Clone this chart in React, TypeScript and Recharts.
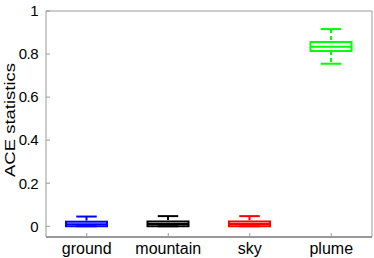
import React from 'react';
import { ComposedChart, Bar, XAxis, YAxis, Label } from 'recharts';

const categories = ['ground', 'mountain', 'sky', 'plume'];
const colors = ['#0000ff', '#000000', '#ff0000', '#00ff00'];
const lowerWhisker = [0, 0, 0, 0.755];
const q1 = [0, 0, 0, 0.814];
const median = [0.009, 0.01, 0.01, 0.834];
const q3 = [0.021, 0.022, 0.022, 0.856];
const upperWhisker = [0.045, 0.047, 0.047, 0.916];
const yTicks = [0, 0.2, 0.4, 0.6, 0.8, 1];

const data = categories.map((name, i) => ({
  name,
  color: colors[i],
  lo: lowerWhisker[i],
  q1: q1[i],
  med: median[i],
  q3: q3[i],
  hi: upperWhisker[i],
  range: [lowerWhisker[i], upperWhisker[i]],
}));

const FONT = '"Liberation Sans", Arial, sans-serif';

function BoxShape(props: any) {
  const { x, y, width, height, payload } = props;
  const { lo, hi, color } = payload;
  const k = height / (hi - lo);
  const py = (v: number) => y + (hi - v) * k;
  const cx = x + width / 2;
  const cap = width / 4;
  return (
    <g stroke={color} strokeWidth={2} fill="none">
      <line x1={cx} x2={cx} y1={py(hi)} y2={py(payload.q3)} strokeDasharray="4 3" />
      <line x1={cx} x2={cx} y1={py(payload.q1)} y2={py(lo)} strokeDasharray="4 3" />
      <line x1={cx - cap} x2={cx + cap} y1={py(hi)} y2={py(hi)} />
      <line x1={cx - cap} x2={cx + cap} y1={py(lo)} y2={py(lo)} />
      <rect x={x} y={py(payload.q3)} width={width} height={py(payload.q1) - py(payload.q3)} />
      <line x1={x} x2={x + width} y1={py(payload.med)} y2={py(payload.med)} />
    </g>
  );
}

// rotated axis title, stretched a little like the exported figure
function YTitle({ viewBox }: any) {
  const tx = viewBox.x + 15;
  const ty = viewBox.y + viewBox.height / 2 - 4;
  return (
    <text
      x={tx}
      y={ty}
      transform={`rotate(-90, ${tx}, ${ty})`}
      textAnchor="middle"
      fontSize={14.5}
      fontFamily={FONT}
      fill="#000"
      textLength={114}
      lengthAdjust="spacingAndGlyphs"
    >
      ACE statistics
    </text>
  );
}

export default function App() {
  const tickStyle = { fontSize: 15, fontFamily: FONT, fill: '#000' };
  return (
    <div style={{ position: 'absolute', left: 0, top: 0 }}>
      <ComposedChart
        width={374}
        height={258}
        data={data}
        margin={{ top: 11, right: 2, bottom: 0, left: 0 }}
      >
        <XAxis
          dataKey="name"
          height={21}
          axisLine={{ stroke: '#333' }}
          tickLine={{ stroke: '#999' }}
          tickSize={-4}
          tickMargin={10}
          tick={{ ...tickStyle, fontSize: 16 }}
        />
        <XAxis
          xAxisId="top"
          dataKey="name"
          orientation="top"
          mirror
          axisLine={{ stroke: '#999' }}
          tickLine={{ stroke: '#999' }}
          tickSize={4}
          tick={false}
        />
        <YAxis
          width={46}
          domain={[-0.05, 1]}
          ticks={yTicks}
          axisLine={{ stroke: '#999' }}
          tickLine={{ stroke: '#999' }}
          tickSize={-4}
          tickMargin={12}
          tick={{ ...tickStyle, letterSpacing: -0.5 }}
          tickFormatter={(v: number) => String(v)}
        >
          <Label content={<YTitle />} />
        </YAxis>
        <YAxis
          yAxisId="right"
          orientation="right"
          mirror
          domain={[-0.05, 1]}
          ticks={yTicks}
          axisLine={{ stroke: '#999' }}
          tickLine={{ stroke: '#999' }}
          tickSize={4}
          tick={false}
        />
        <Bar dataKey="range" barSize={41} shape={<BoxShape />} isAnimationActive={false} />
      </ComposedChart>
    </div>
  );
}
